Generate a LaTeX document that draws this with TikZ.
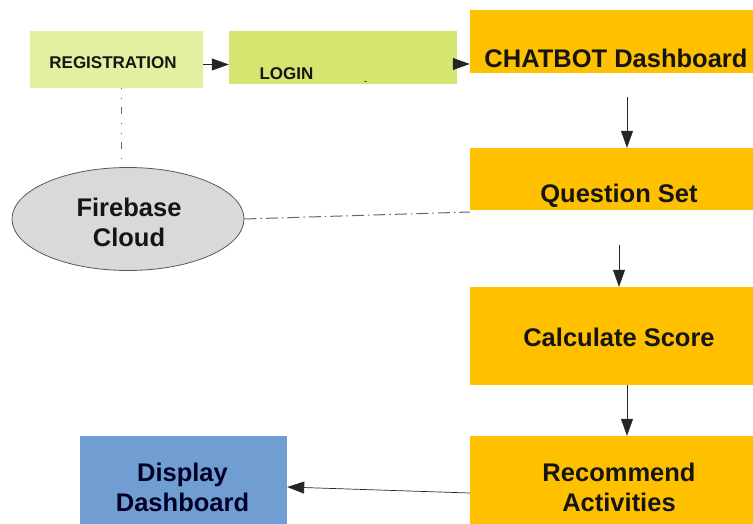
\documentclass[tikz,border=0pt]{standalone}
\usepackage{fontspec}
\setmainfont{Liberation Sans}
\usetikzlibrary{arrows.meta,shapes.geometric}

\definecolor{regfill}{HTML}{E4EFA2}
\definecolor{loginfill}{HTML}{D6E570}
\definecolor{gold}{HTML}{FFC000}
\definecolor{skyblue}{HTML}{719ED2}
\definecolor{cloudgray}{HTML}{D9D9D9}
\definecolor{ink}{HTML}{151515}

\tikzset{
  box/.style={draw=none, inner sep=0pt, minimum width=#1},
  stepbox/.style={box=283pt, fill=gold},
  lbl/.style={text=ink, align=center, inner sep=0pt},
  small/.style={lbl, font=\bfseries\fontsize{17}{19}\selectfont},
  big/.style={lbl, font=\bfseries\fontsize{25.5}{30}\selectfont},
  arr/.style={-{Triangle[length=17pt,width=12pt]}, line width=0.7pt, draw=black!85},
  link/.style={draw=black!60, line width=1pt},
}

\begin{document}
\begin{tikzpicture}[x=1pt,y=-1pt]
  \useasboundingbox (0,0) rectangle (753,524);
  \clip (0,0) rectangle (753,524);

  % login / registration stage
  \node[box=173pt, minimum height=57pt, fill=regfill] (reg) at (116.5,59.5) {};
  \node[small] (regt) at (113,63) {REGISTRATION};
  \node[box=228pt, minimum height=53pt, fill=loginfill] (login) at (343,57.5) {};
  \node[small] (logint) at (286.5,74) {LOGIN};
  \coordinate (tick) at (364,81.5);
  \draw[black!60, line width=0.8pt] (tick) -- ++(3,0);

  % main flow
  \node[stepbox, minimum height=63pt] (chat) at (611.5,41.5) {};
  \node[big] (chatt) at (616,58) {CHATBOT Dashboard};
  \node[stepbox, minimum height=62pt] (qset) at (611.5,179) {};
  \node[big] (qsett) at (619,196) {Question Set};
  \node[stepbox, minimum height=98pt] (calc) at (611.5,336) {};
  \node[big] (calct) at (619,337) {Calculate Score};
  \node[stepbox, minimum height=88pt] (rec) at (611.5,480) {};
  \node[big] (rect) at (619,487) {Recommend\\Activities};

  \node[box=207pt, minimum height=88pt, fill=skyblue] (disp) at (183.5,480) {};
  \node[big, text=black!85!blue] (dispt) at (182.5,487) {Display\\Dashboard};

  % storage
  \node[ellipse, draw=black!65, line width=0.8pt, fill=cloudgray,
        minimum width=232pt, minimum height=103pt, inner sep=0pt] (fire) at (128,219) {};
  \node[big] (firet) at (129,222) {Firebase\\Cloud};

  % connectors
  \draw[arr] ([yshift=-5pt]reg.east) -- ([yshift=-5pt]reg.east -| login.west);
  \draw[arr] ([yshift=-6.5pt]login.east) -- ([yshift=-6.5pt]login.east -| chat.west);
  \draw[arr, shorten <=24pt] ([xshift=15.5pt]chat.south) -- ([xshift=15.5pt]chat.south |- qset.north);
  \draw[arr, shorten <=35pt] ([xshift=7.5pt]qset.south) -- ([xshift=7.5pt]qset.south |- calc.north);
  \draw[arr] ([xshift=15.5pt]calc.south) -- ([xshift=15.5pt]calc.south |- rec.north);
  \draw[arr] ([yshift=-13pt]rec.west) -- ([yshift=-7pt]disp.east);

  % database links
  \draw[link, dash pattern=on 1.2pt off 8.5pt on 1.2pt off 8pt on 7pt off 9pt]
    ([xshift=4.5pt]reg.south) -- ([xshift=4.5pt]reg.south |- fire.north);
  \draw[link, dash pattern=on 12pt off 4pt on 1.5pt off 4pt]
    (fire.east) -- ([yshift=-33pt]qset.west);
\end{tikzpicture}
\end{document}
